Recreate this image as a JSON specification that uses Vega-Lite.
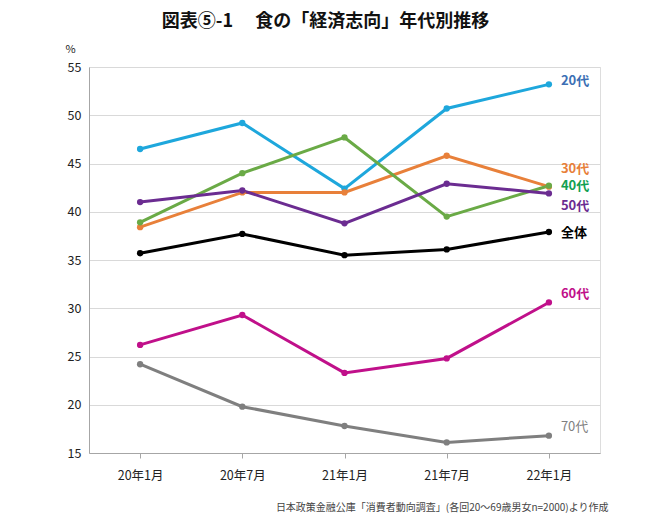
{
  "$schema": "https://vega.github.io/schema/vega-lite/v6.json",
  "width": 511,
  "height": 386,
  "autosize": {"type": "none"},
  "padding": {"left": 89, "top": 67, "right": 65, "bottom": 63},
  "background": "white",
  "title": {
    "text": "図表⑤-1　 食の「経済志向」年代別推移",
    "font": "Noto Sans CJK JP",
    "fontSize": 18,
    "fontWeight": "bold",
    "color": "#111111",
    "anchor": "middle",
    "dx": -19,
    "offset": 12
  },
  "data": {
    "values": [
      {"month": "20年1月", "group": "20代", "value": 46.5},
      {"month": "20年7月", "group": "20代", "value": 49.2},
      {"month": "21年1月", "group": "20代", "value": 42.4},
      {"month": "21年7月", "group": "20代", "value": 50.7},
      {"month": "22年1月", "group": "20代", "value": 53.2},
      {"month": "20年1月", "group": "30代", "value": 38.4},
      {"month": "20年7月", "group": "30代", "value": 42.0},
      {"month": "21年1月", "group": "30代", "value": 42.0},
      {"month": "21年7月", "group": "30代", "value": 45.8},
      {"month": "22年1月", "group": "30代", "value": 42.6},
      {"month": "20年1月", "group": "40代", "value": 38.9},
      {"month": "20年7月", "group": "40代", "value": 44.0},
      {"month": "21年1月", "group": "40代", "value": 47.7},
      {"month": "21年7月", "group": "40代", "value": 39.5},
      {"month": "22年1月", "group": "40代", "value": 42.7},
      {"month": "20年1月", "group": "50代", "value": 41.0},
      {"month": "20年7月", "group": "50代", "value": 42.2},
      {"month": "21年1月", "group": "50代", "value": 38.8},
      {"month": "21年7月", "group": "50代", "value": 42.9},
      {"month": "22年1月", "group": "50代", "value": 41.9},
      {"month": "20年1月", "group": "全体", "value": 35.7},
      {"month": "20年7月", "group": "全体", "value": 37.7},
      {"month": "21年1月", "group": "全体", "value": 35.5},
      {"month": "21年7月", "group": "全体", "value": 36.1},
      {"month": "22年1月", "group": "全体", "value": 37.9},
      {"month": "20年1月", "group": "60代", "value": 26.2},
      {"month": "20年7月", "group": "60代", "value": 29.3},
      {"month": "21年1月", "group": "60代", "value": 23.3},
      {"month": "21年7月", "group": "60代", "value": 24.8},
      {"month": "22年1月", "group": "60代", "value": 30.6},
      {"month": "20年1月", "group": "70代", "value": 24.2},
      {"month": "20年7月", "group": "70代", "value": 19.8},
      {"month": "21年1月", "group": "70代", "value": 17.8},
      {"month": "21年7月", "group": "70代", "value": 16.1},
      {"month": "22年1月", "group": "70代", "value": 16.8}
    ]
  },
  "encoding": {
    "x": {
      "field": "month",
      "type": "nominal",
      "sort": ["20年1月", "20年7月", "21年1月", "21年7月", "22年1月"],
      "scale": {"type": "point", "padding": 0.5},
      "axis": {
        "labelAngle": 0,
        "labelFont": "Noto Sans CJK JP",
        "labelFontSize": 12.5,
        "labelColor": "#222222",
        "labelPadding": 11,
        "domainColor": "#a6a6a6",
        "tickColor": "#a6a6a6",
        "tickSize": 5,
        "grid": false,
        "title": "日本政策金融公庫「消費者動向調査」(各回20～69歳男女n=2000)より作成",
        "titleFont": "Noto Sans CJK JP",
        "titleFontSize": 10,
        "titleFontWeight": "normal",
        "titleColor": "#444444",
        "titleAnchor": "end",
        "titleAlign": "right",
        "titleX": 519,
        "titleY": 49
      }
    },
    "y": {
      "field": "value",
      "type": "quantitative",
      "scale": {"domain": [15, 55], "nice": false},
      "axis": {
        "values": [15, 20, 25, 30, 35, 40, 45, 50, 55],
        "labelFont": "Noto Sans CJK JP",
        "labelFontSize": 12.5,
        "labelColor": "#222222",
        "labelPadding": 8,
        "ticks": false,
        "domainColor": "#a6a6a6",
        "gridColor": "#d9d9d9",
        "title": "%",
        "titleFont": "Noto Sans CJK JP",
        "titleFontSize": 11,
        "titleFontWeight": "normal",
        "titleColor": "#222222",
        "titleAngle": 0,
        "titleX": -19,
        "titleY": -13
      }
    },
    "color": {
      "field": "group",
      "type": "nominal",
      "scale": {
        "domain": ["20代", "30代", "40代", "50代", "全体", "60代", "70代"],
        "range": ["#1ea7dc", "#e8803a", "#6aaa46", "#6b2c91", "#000000", "#c0108a", "#7f7f7f"]
      },
      "legend": null
    }
  },
  "layer": [
    {"mark": {"type": "line", "strokeWidth": 3}},
    {"mark": {"type": "point", "filled": true, "size": 40, "opacity": 1}},
    {
      "transform": [{"filter": "datum.month === '22年1月' && datum.group === '40代'"}],
      "mark": {"type": "text", "align": "left", "dx": 12, "dy": 0, "font": "Noto Sans CJK JP", "fontSize": 13, "fontWeight": "bold"},
      "encoding": {"text": {"field": "group"}, "color": {"value": "#12a050"}}
    },
    {
      "transform": [{"filter": "datum.month === '22年1月' && datum.group === '全体'"}],
      "mark": {"type": "text", "align": "left", "dx": 12, "dy": 1, "font": "Noto Sans CJK JP", "fontSize": 13, "fontWeight": "bold"},
      "encoding": {"text": {"field": "group"}, "color": {"value": "#000000"}}
    },
    {
      "transform": [{"filter": "datum.month === '22年1月' && datum.group === '20代'"}],
      "mark": {"type": "text", "align": "left", "dx": 12, "dy": -3, "font": "Noto Sans CJK JP", "fontSize": 13, "fontWeight": "bold"},
      "encoding": {"text": {"field": "group"}, "color": {"value": "#3c6fb4"}}
    },
    {
      "transform": [{"filter": "datum.month === '22年1月' && datum.group === '30代'"}],
      "mark": {"type": "text", "align": "left", "dx": 12, "dy": -18, "font": "Noto Sans CJK JP", "fontSize": 13, "fontWeight": "bold"},
      "encoding": {"text": {"field": "group"}, "color": {"value": "#e8803a"}}
    },
    {
      "transform": [{"filter": "datum.month === '22年1月' && datum.group === '50代'"}],
      "mark": {"type": "text", "align": "left", "dx": 12, "dy": 13, "font": "Noto Sans CJK JP", "fontSize": 13, "fontWeight": "bold"},
      "encoding": {"text": {"field": "group"}, "color": {"value": "#6b2c91"}}
    },
    {
      "transform": [{"filter": "datum.month === '22年1月' && datum.group === '60代'"}],
      "mark": {"type": "text", "align": "left", "dx": 12, "dy": -8, "font": "Noto Sans CJK JP", "fontSize": 13, "fontWeight": "bold"},
      "encoding": {"text": {"field": "group"}, "color": {"value": "#c0108a"}}
    },
    {
      "transform": [{"filter": "datum.month === '22年1月' && datum.group === '70代'"}],
      "mark": {"type": "text", "align": "left", "dx": 12, "dy": -9, "font": "Noto Sans CJK JP", "fontSize": 13, "fontWeight": "normal"},
      "encoding": {"text": {"field": "group"}, "color": {"value": "#7f7f7f"}}
    }
  ]
}
